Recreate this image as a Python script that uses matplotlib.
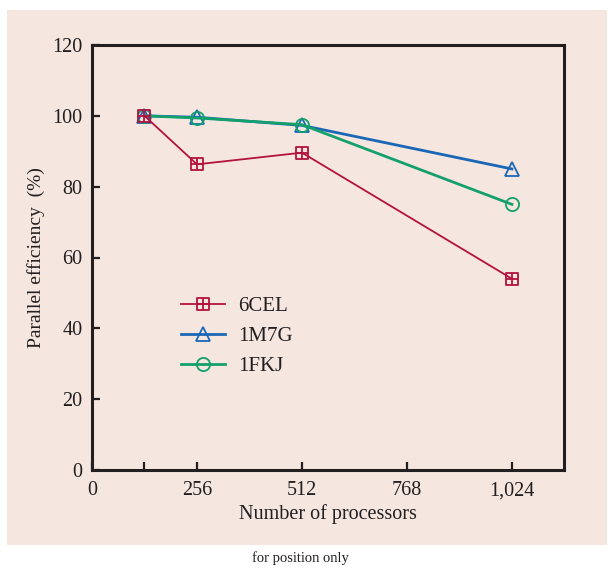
import matplotlib
matplotlib.use("Agg")
import matplotlib.pyplot as plt
from matplotlib.path import Path
from matplotlib.patches import Rectangle

# Data
processors = [128, 256, 512, 1024]
eff_6cel = [100, 86.3, 89.6, 54]
eff_1m7g = [100, 99.6, 97.3, 85]
eff_1fkj = [100, 99.4, 97.5, 75]
series_names = ["6CEL", "1M7G", "1FKJ"]
x_ticks = [0, 128, 256, 512, 768, 1024]
x_tick_labels = ["0", "", "256", "512", "768", "1,024"]
y_ticks = [0, 20, 40, 60, 80, 100, 120]

BG = "#f5e6e0"
INK = "#231f20"
RED = "#b3123f"
BLUE = "#1a67b5"
GREEN = "#13a06c"

plt.rcParams["font.family"] = ["Liberation Serif", "DejaVu Serif"]

# Square with a cross inside
boxplus = Path(
    [(-1, -1), (1, -1), (1, 1), (-1, 1), (-1, -1),
     (0, -1), (0, 1), (-1, 0), (1, 0)],
    [Path.MOVETO, Path.LINETO, Path.LINETO, Path.LINETO, Path.CLOSEPOLY,
     Path.MOVETO, Path.LINETO, Path.MOVETO, Path.LINETO],
)

fig = plt.figure(figsize=(6.08, 5.68), dpi=100)
fig.patch.set_facecolor("white")
fig.patches.append(Rectangle((7 / 608, 1 - 545 / 568), 600 / 608, 535 / 568,
                             transform=fig.transFigure, facecolor=BG,
                             edgecolor="none", zorder=-10))

ax = fig.add_axes([92 / 608, 1 - 470 / 568, 472 / 608, 425 / 568])
ax.set_zorder(1)
ax.set_facecolor(BG)

ax.plot(processors, eff_1m7g, color=BLUE, lw=2.0, marker="^", ms=9.5,
        mfc="none", mec=BLUE, mew=1.3, label=series_names[1], zorder=3)
ax.plot(processors, eff_1fkj, color=GREEN, lw=2.0, marker="o", ms=9.5,
        mfc="none", mec=GREEN, mew=1.3, label=series_names[2], zorder=4)
ax.plot(processors, eff_6cel, color=RED, lw=1.3, marker=boxplus, ms=8.5,
        mfc="none", mec=RED, mew=1.3, label=series_names[0], zorder=5)

ax.set_xlim(0, 1151)
ax.set_ylim(0, 120)
ax.set_xticks(x_ticks)
ax.set_xticklabels(x_tick_labels)
ax.set_yticks(y_ticks)

for s in ax.spines.values():
    s.set_linewidth(2.2)
    s.set_color(INK)
ax.tick_params(direction="in", length=5.5, width=1.6, color=INK,
               labelsize=14.5, labelcolor=INK)
ax.tick_params(axis="x", pad=8)
ax.tick_params(axis="y", pad=7)

ax.set_xlabel("Number of processors", fontsize=14.5, color=INK, labelpad=3)
ax.set_ylabel("Parallel efficiency  (%)", fontsize=14, color=INK, labelpad=5)

handles, labels = ax.get_legend_handles_labels()
order = [2, 0, 1]
leg = ax.legend([handles[i] for i in order], [labels[i] for i in order],
                loc="upper left", bbox_to_anchor=(0.171, 0.428), frameon=False,
                fontsize=15, handlelength=2.1, handletextpad=0.62,
                labelspacing=0.5, borderaxespad=0)
for t in leg.get_texts():
    t.set_color(INK)

fig.text(300 / 608, 1 - 558 / 568, "for position only", ha="center",
         va="center", fontsize=10.5, color=INK)

fig.savefig("out.png", dpi=100, facecolor=fig.get_facecolor())
